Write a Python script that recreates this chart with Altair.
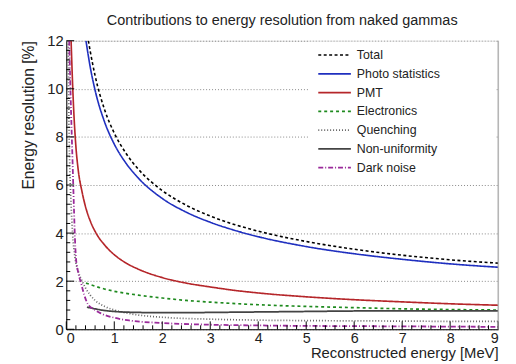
import altair as alt
import pandas as pd

series = ["Total", "Photo statistics", "PMT", "Electronics", "Quenching", "Non-uniformity", "Dark noise"]

total_e = [0.46, 0.5, 0.6, 0.8, 1.0, 1.25, 1.5, 2.0, 2.5, 3.0, 3.5, 4.0, 5.0, 6.0, 7.0, 8.0, 9.0]
total_r = [12.0, 11.55, 10.55, 9.12, 8.16, 7.3, 6.66, 5.77, 5.16, 4.71, 4.36, 4.08, 3.65, 3.33, 3.08, 2.89, 2.75]

photo_e = [0.41, 0.5, 0.6, 0.8, 1.0, 1.25, 1.5, 2.0, 2.5, 3.0, 3.5, 4.0, 5.0, 6.0, 7.0, 8.0, 9.0]
photo_r = [12.0, 10.89, 9.94, 8.61, 7.7, 6.89, 6.29, 5.44, 4.87, 4.45, 4.12, 3.85, 3.44, 3.14, 2.91, 2.72, 2.58]

pmt_e = [0.1, 0.12, 0.15, 0.2, 0.25, 0.33, 0.4, 0.5, 0.62, 0.8, 1.0, 1.25, 1.5, 2.0, 2.5, 3.0, 3.5, 4.0, 5.0, 6.0, 7.0, 8.0, 9.0]
pmt_r = [12.0, 10.8, 9.3, 7.6, 6.6, 5.7, 5.1, 4.5, 4.0, 3.5, 3.1, 2.75, 2.5, 2.15, 1.92, 1.76, 1.62, 1.51, 1.35, 1.23, 1.14, 1.06, 1.0]

elec_e = [0.41, 0.5, 0.75, 1.0, 1.5, 2.0, 2.5, 3.0, 4.0, 5.0, 6.0, 7.0, 8.0, 9.0]
elec_r = [1.92, 1.86, 1.7, 1.58, 1.42, 1.3, 1.2, 1.13, 1.02, 0.95, 0.9, 0.85, 0.82, 0.8]

quench_e = [0.04, 0.05, 0.07, 0.1, 0.13, 0.18, 0.25, 0.33, 0.4, 0.5, 0.6, 0.8, 1.0, 1.35, 2.0, 3.0, 4.0, 5.0, 6.0, 7.0, 8.0, 9.0]
quench_r = [12.0, 9.5, 7.0, 5.2, 4.0, 3.0, 2.4, 2.0, 1.72, 1.42, 1.2, 0.95, 0.8, 0.64, 0.5, 0.42, 0.38, 0.36, 0.35, 0.34, 0.33, 0.33]

nonu_e = [0.43, 0.6, 0.8, 1.0, 1.5, 2.0, 2.5, 3.0, 4.0, 5.0, 6.0, 7.0, 8.0, 9.0]
nonu_r = [0.92, 0.85, 0.78, 0.74, 0.7, 0.69, 0.69, 0.7, 0.72, 0.74, 0.76, 0.77, 0.77, 0.77]

dark_e = [0.06, 0.1, 0.13, 0.16, 0.18, 0.2, 0.25, 0.31, 0.37, 0.45, 0.6, 0.72, 1.0, 1.34, 2.0, 3.0, 4.0, 5.0, 6.0, 7.0, 8.0, 9.0]
dark_r = [12.0, 9.0, 7.0, 5.0, 3.8, 3.0, 2.35, 1.9, 1.45, 1.05, 0.8, 0.66, 0.48, 0.36, 0.26, 0.19, 0.16, 0.14, 0.13, 0.12, 0.11, 0.1]

x_major = [0, 1, 2, 3, 4, 5, 6, 7, 8, 9]
y_major = [0, 2, 4, 6, 8, 10, 12]
x_minor = [round(i * 0.2, 2) for i in range(46) if i % 5 != 0]
y_minor = [round(i * 0.4, 2) for i in range(31) if i % 5 != 0]

colors = ["#000000", "#1f2fbf", "#b5262a", "#1e8a1e", "#666666", "#444444", "#9a2a9a"]
dashes = [[3, 2.5], [1, 0], [1, 0], [3, 3], [1, 2], [1, 0], [5, 2, 1, 2]]
widths = [1.6, 1.8, 1.6, 3.0, 1.0, 0.9, 1.6]

all_e = [total_e, photo_e, pmt_e, elec_e, quench_e, nonu_e, dark_e]
all_r = [total_r, photo_r, pmt_r, elec_r, quench_r, nonu_r, dark_r]
df = pd.concat(
    [pd.DataFrame({"series": n, "E": e, "R": r}) for n, e, r in zip(series, all_e, all_r)],
    ignore_index=True,
)

W, H = 437, 292
xs = alt.Scale(domain=[0, 9], nice=False, zero=False)
ys = alt.Scale(domain=[0, 12], nice=False, zero=False)
cscale = alt.Scale(domain=series, range=colors)
dscale = alt.Scale(domain=series, range=dashes)
wscale = alt.Scale(domain=series, range=widths)
FONT = "Liberation Sans"

x_axis = alt.Axis(
    values=x_major, format="d", labelFontSize=14.5, labelColor="#222", labelPadding=2,
    tickSize=0, domainColor="#000", domainWidth=1, grid=False,
    title="Reconstructed energy [MeV]", titleAnchor="end", titleFontSize=15,
    titleFontWeight="normal", titleColor="#222", titlePadding=1, labelFont=FONT, titleFont=FONT)

rect = alt.Chart(pd.DataFrame({"a": [0]})).mark_rect(color="white").encode(
    x=alt.value(245), x2=alt.value(435), y=alt.value(1), y2=alt.value(139)
)

lines = alt.Chart(df).mark_line(interpolate="monotone", clip=True).encode(
    x=alt.X("E:Q", scale=xs, axis=x_axis),
    y=alt.Y("R:Q", scale=ys, axis=alt.Axis(
        orient="left", values=y_major, format="d", labelFontSize=15, labelColor="#222", labelPadding=3,
        tickSize=0, domainColor="#000", domainWidth=1, grid=True, gridDash=[1, 2],
        gridColor="#888", gridWidth=1,
        title="Energy resolution [%]", titleAnchor="end", titleFontSize=15.8,
        titleFontWeight="normal", titleColor="#222", titlePadding=10, labelFont=FONT, titleFont=FONT)),
    color=alt.Color("series:N", scale=cscale, legend=None),
    strokeDash=alt.StrokeDash("series:N", scale=dscale, legend=None),
    strokeWidth=alt.StrokeWidth("series:N", scale=wscale, legend=None),
)

def yticks(vals, length):
    return alt.Chart(pd.DataFrame({"v": vals})).mark_rule(color="#000", strokeWidth=1).encode(
        y=alt.Y("v:Q", scale=ys, axis=None), x=alt.value(0), x2=alt.value(length)
    )

def xticks(vals, length):
    return alt.Chart(pd.DataFrame({"v": vals})).mark_rule(color="#000", strokeWidth=1).encode(
        x=alt.X("v:Q", scale=xs, axis=x_axis), y=alt.value(H), y2=alt.value(H - length)
    )

border = alt.Chart(pd.DataFrame({"a": [0]})).mark_rule(color="#999", strokeWidth=1).encode(
    x=alt.value(W), y=alt.value(0), y2=alt.value(H)
)

leg_df = pd.DataFrame({"series": series})
leg_y = alt.Scale(type="point", domain=series, range=[14.5, 128.5], padding=0)
leg_rules = alt.Chart(leg_df).mark_rule().encode(
    x=alt.value(255), x2=alt.value(288),
    y=alt.Y("series:N", scale=leg_y, axis=None),
    color=alt.Color("series:N", scale=cscale, legend=None),
    strokeDash=alt.StrokeDash("series:N", scale=dscale, legend=None),
    strokeWidth=alt.StrokeWidth("series:N", scale=wscale, legend=None),
)
leg_text = alt.Chart(leg_df).mark_text(align="left", baseline="middle", fontSize=12.5,
                                       color="#222", font=FONT).encode(
    x=alt.value(294),
    y=alt.Y("series:N", scale=leg_y, axis=None),
    text="series:N",
)

chart = alt.layer(
    rect, lines, yticks(y_major, 8), yticks(y_minor, 4), xticks(x_major, 8), xticks(x_minor, 4),
    border, leg_rules, leg_text
).resolve_scale(y="independent").properties(
    width=W, height=H,
    title=alt.TitleParams("Contributions to energy resolution from naked gammas", fontSize=14.6,
                          fontWeight="normal", font=FONT, anchor="middle", offset=6, color="#222"),
    padding={"left": 59, "top": 31, "right": 10, "bottom": 31},
    autosize=alt.AutoSizeParams(type="none"),
).configure_view(stroke=None).configure(font=FONT)

chart.save("out.html", embed_options={"renderer": "svg", "actions": False})
